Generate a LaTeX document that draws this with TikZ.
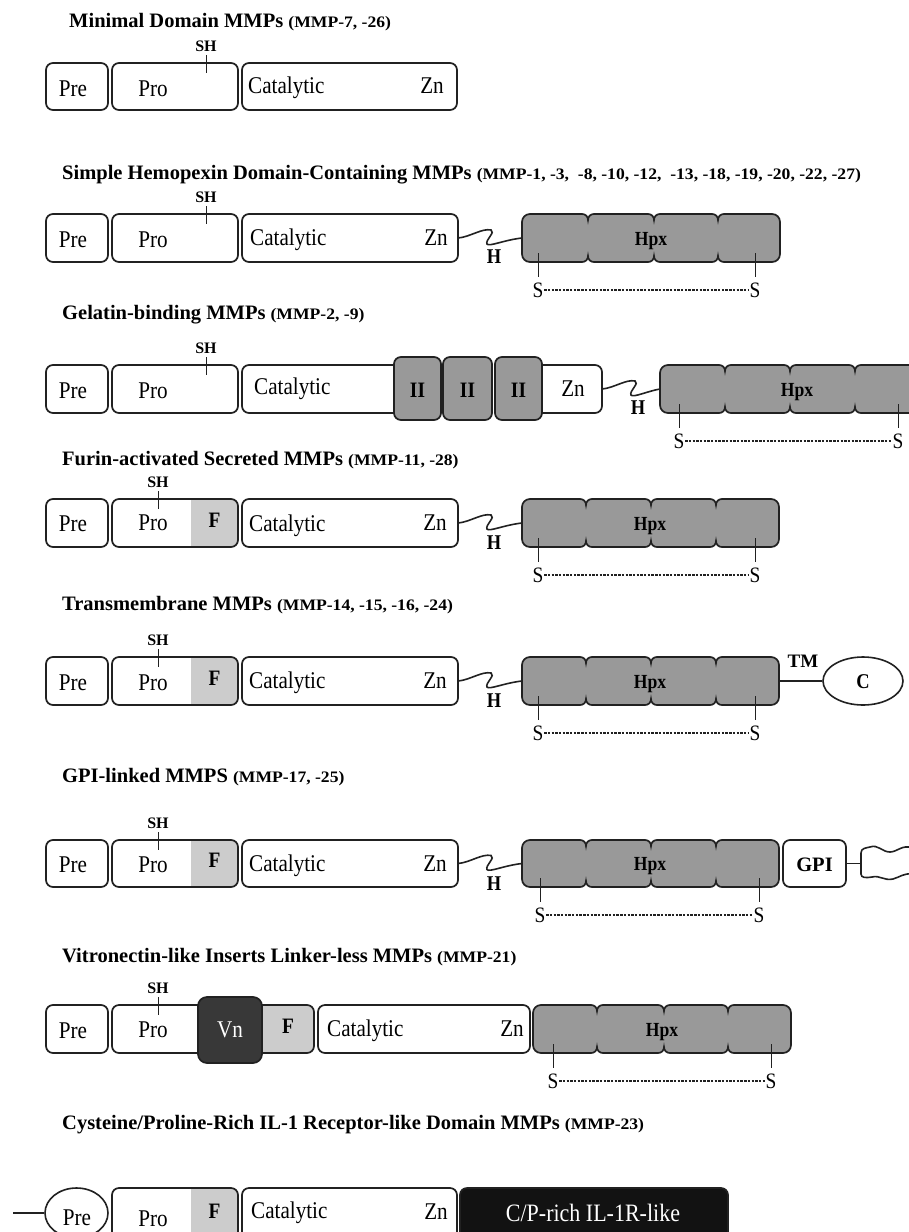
\documentclass[tikz,border=0pt]{standalone}
\usepackage{fontspec}
\setmainfont{Liberation Serif}
\newfontfamily\cfont{Liberation Serif}[FakeStretch=0.88]
\newfontfamily\wfont{Liberation Serif}[FakeStretch=1.1]
\usetikzlibrary{shapes.geometric}
\definecolor{ol}{gray}{0.13}
\definecolor{hgray}{gray}{0.6}
\definecolor{fgray}{gray}{0.8}
\definecolor{vdark}{gray}{0.22}
\definecolor{cpblk}{gray}{0.07}
\newcommand\ttlsz{\fontsize{20.5pt}{24pt}\selectfont\bfseries}
\newcommand\mmpsz{\wfont\fontsize{16pt}{19pt}\selectfont\bfseries}
\newcommand\lblsz{\cfont\fontsize{24pt}{27pt}\selectfont}
\newcommand\bsz{\cfont\fontsize{22pt}{26pt}\selectfont\bfseries}
\newcommand\bx[6][]{\node[box,minimum width={#4-#3},minimum height={#6-#5},#1] (#2) at ({(#3+#4)/2},{(#5+#6)/2}) {};}
\newcommand\hpx[8]{%
\filldraw[hpxsty] (#2,#4+8) .. controls (#2,#4+3.5) and (#2+3.5,#4) .. (#2+8,#4)
 -- (#6-6,#4) .. controls (#6-2.5,#4) and (#6,#4+2.5) .. (#6,#4+6) .. controls (#6,#4+2.5) and (#6+2.5,#4) .. (#6+6,#4)
 -- (#7-6,#4) .. controls (#7-2.5,#4) and (#7,#4+2.5) .. (#7,#4+6) .. controls (#7,#4+2.5) and (#7+2.5,#4) .. (#7+6,#4)
 -- (#8-6,#4) .. controls (#8-2.5,#4) and (#8,#4+2.5) .. (#8,#4+6) .. controls (#8,#4+2.5) and (#8+2.5,#4) .. (#8+6,#4)
 -- (#3-8,#4) .. controls (#3-3.5,#4) and (#3,#4+3.5) .. (#3,#4+8)
 -- (#3,#5-8) .. controls (#3,#5-3.5) and (#3-3.5,#5) .. (#3-8,#5)
 -- (#8+6,#5) .. controls (#8+2.5,#5) and (#8,#5-2.5) .. (#8,#5-6) .. controls (#8,#5-2.5) and (#8-2.5,#5) .. (#8-6,#5)
 -- (#7+6,#5) .. controls (#7+2.5,#5) and (#7,#5-2.5) .. (#7,#5-6) .. controls (#7,#5-2.5) and (#7-2.5,#5) .. (#7-6,#5)
 -- (#6+6,#5) .. controls (#6+2.5,#5) and (#6,#5-2.5) .. (#6,#5-6) .. controls (#6,#5-2.5) and (#6-2.5,#5) .. (#6-6,#5)
 -- (#2+8,#5) .. controls (#2+3.5,#5) and (#2,#5-3.5) .. (#2,#5-8) -- cycle;
\coordinate (#1w) at (#2,{(#4+#5)/2});
\coordinate (#1e) at (#3,{(#4+#5)/2});}
\newcommand\sbond[4]{%
\draw[tk] (#2,#4-9) -- (#2,#4+15);
\draw[tk] (#3,#4-9) -- (#3,#4+15);
\node[slab] (#1l) at (#2,#4+28) {S};
\node[slab] (#1r) at (#3,#4+28) {S};
\draw[dsh] (#1l.east) -- (#1r.west);}
\newcommand\lnk[4]{%
\draw[lnk] (#1) .. controls (#3+12,#4-1) and (#3+24,#4-10) .. (#3+33,#4-8) .. controls (#3+38,#4-6) and (#3+27,#4+2) .. (#3+29,#4+6) .. controls (#3+31,#4+9) and (#3+46,#4+2) .. (#2);}
\newcommand\shmark[3]{%
\node[shl] (#1) at (#2,#3-17) {SH};
\draw[tk] (#2,#3-8) -- (#2,#3+10);}
\begin{document}
\begin{tikzpicture}[x=1pt,y=-1pt,
 box/.style={draw=ol,line width=1.7pt,rounded corners=7pt,fill=white,inner sep=0pt,outer sep=0pt},
 hpxsty/.style={draw=ol,line width=1.7pt,fill=hgray},
 withF/.style={path picture={\fill[fgray,sharp corners] ([xshift=-#1]path picture bounding box.north east) rectangle (path picture bounding box.south east);}},
 ttl/.style={anchor=base west,inner sep=0pt,font=\ttlsz},
 lbl/.style={anchor=base,inner sep=0pt,font=\lblsz},
 lblw/.style={anchor=base west,inner sep=0pt,font=\lblsz},
 blbl/.style={anchor=base,inner sep=0pt,font=\bsz},
 hpxl/.style={anchor=base,inner sep=0pt,font=\cfont\fontsize{20pt}{24pt}\selectfont\bfseries},
 shl/.style={inner sep=0pt,font=\fontsize{16pt}{18pt}\selectfont\bfseries},
 slab/.style={inner sep=0.6pt,font=\cfont\fontsize{22pt}{24pt}\selectfont},
 hl/.style={inner sep=0pt,font=\cfont\fontsize{21pt}{24pt}\selectfont\bfseries},
 tk/.style={draw=ol,line width=0.9pt},
 lnk/.style={draw=ol,line width=1.6pt},
 dsh/.style={draw=ol,line width=1.2pt,dash pattern=on 2.4pt off 1.3pt},
]
\useasboundingbox (0,0) rectangle (909,1232);
\clip (0,0) rectangle (909,1232);
\fill[white] (0,0) rectangle (909,1232);

% ---------- Row 1
\node[ttl] (t1) at (69,27) {Minimal Domain MMPs {\mmpsz(MMP-7, -26)}};
\bx{r1pre}{46}{108}{63}{110}
\bx{r1pro}{112}{238}{63}{110}
\bx{r1cat}{242}{457}{63}{110}
\shmark{r1sh}{206}{63}
\node[lbl] (r1preL) at (73,96) {Pre};
\node[lbl] (r1proL) at (153,96) {Pro};
\node[lblw] (r1catL) at (248,93) {Catalytic};
\node[lbl] (r1znL) at (432,93) {Zn};

% ---------- Row 2
\node[ttl] (t2) at (62,179) {Simple Hemopexin Domain-Containing MMPs {\mmpsz(MMP-1, -3,\ \ -8, -10, -12,\ \ -13, -18, -19, -20, -22, -27)}};
\bx{r2pre}{46}{108}{214}{262}
\bx{r2pro}{112}{238}{214}{262}
\bx{r2cat}{242}{458}{214}{262}
\shmark{r2sh}{206}{214}
\node[lbl] (r2preL) at (73,247) {Pre};
\node[lbl] (r2proL) at (153,247) {Pro};
\node[lblw] (r2catL) at (250,245) {Catalytic};
\node[lbl] (r2znL) at (436,245) {Zn};
\hpx{r2h}{522}{780}{214}{262}{588}{654}{718}
\node[hpxl] (r2hpx) at (651,245) {Hpx};
\lnk{r2cat.east}{r2hw}{458}{238}
\node[hl] (r2H) at (494,257) {H};
\sbond{r2s}{538}{755}{262}

% ---------- Row 3
\node[ttl] (t3) at (62,319) {Gelatin-binding MMPs {\mmpsz(MMP-2, -9)}};
\bx{r3pre}{46}{108}{365}{413}
\bx{r3pro}{112}{238}{365}{413}
\bx{r3cat}{242}{410}{365}{413}
\bx{r3zn}{530}{602}{365}{413}
\bx[fill=hgray]{r3ii1}{394}{441}{357}{420}
\bx[fill=hgray]{r3ii2}{443}{492}{357}{420}
\bx[fill=hgray]{r3ii3}{495}{542}{357}{420}
\shmark{r3sh}{206}{365}
\node[lbl] (r3preL) at (73,398) {Pre};
\node[lbl] (r3proL) at (153,398) {Pro};
\node[lblw] (r3catL) at (254,394) {Catalytic};
\node[blbl] (r3ii1L) at (417.5,397) {II};
\node[blbl] (r3ii2L) at (467.5,397) {II};
\node[blbl] (r3ii3L) at (518.5,397) {II};
\node[lbl] (r3znL) at (573,396) {Zn};
\hpx{r3h}{660}{918}{365}{413}{725}{790}{855}
\node[hpxl] (r3hpx) at (797,396) {Hpx};
\lnk{r3zn.east}{r3hw}{602}{389}
\node[hl] (r3H) at (638,408) {H};
\sbond{r3s}{679}{898}{413}

% ---------- Row 4
\node[ttl] (t4) at (62,465) {Furin-activated Secreted MMPs {\mmpsz(MMP-11, -28)}};
\bx{r4pre}{46}{108}{499}{547}
\bx[withF=47pt]{r4pro}{112}{238}{499}{547}
\bx{r4cat}{242}{458}{499}{547}
\shmark{r4sh}{158}{499}
\node[lbl] (r4preL) at (73,531) {Pre};
\node[lbl] (r4proL) at (153,530) {Pro};
\node[blbl] (r4fL) at (214.5,527) {F};
\node[lblw] (r4catL) at (249,531) {Catalytic};
\node[lbl] (r4znL) at (435,530) {Zn};
\hpx{r4h}{522}{779}{499}{547}{586}{651}{716}
\node[hpxl] (r4hpx) at (650,530) {Hpx};
\lnk{r4cat.east}{r4hw}{458}{523}
\node[hl] (r4H) at (494,543) {H};
\sbond{r4s}{538}{755}{547}

% ---------- Row 5
\node[ttl] (t5) at (62,610) {Transmembrane MMPs {\mmpsz(MMP-14, -15, -16, -24)}};
\bx{r5pre}{46}{108}{657}{705}
\bx[withF=47pt]{r5pro}{112}{238}{657}{705}
\bx{r5cat}{242}{458}{657}{705}
\shmark{r5sh}{158}{657}
\node[lbl] (r5preL) at (73,690) {Pre};
\node[lbl] (r5proL) at (153,690) {Pro};
\node[blbl] (r5fL) at (214.5,685) {F};
\node[lblw] (r5catL) at (249,688) {Catalytic};
\node[lbl] (r5znL) at (435,688) {Zn};
\hpx{r5h}{522}{779}{657}{705}{586}{651}{716}
\node[hpxl] (r5hpx) at (650,688) {Hpx};
\lnk{r5cat.east}{r5hw}{458}{681}
\node[hl] (r5H) at (494,701) {H};
\sbond{r5s}{538}{755}{705}
\node[draw=ol,line width=1.6pt,ellipse,fill=white,minimum width=80pt,minimum height=48pt,inner sep=0pt] (r5c) at (863,681) {};
\node[hl] (r5cL) at (863,682) {C};
\draw[lnk] (r5he) -- (r5c.west);
\node[inner sep=0pt,font=\fontsize{19pt}{22pt}\selectfont\bfseries] (r5tm) at (803,661) {TM};

% ---------- Row 6
\node[ttl] (t6) at (62,782) {GPI-linked MMPS {\mmpsz(MMP-17, -25)}};
\bx{r6pre}{46}{108}{840}{887}
\bx[withF=47pt]{r6pro}{112}{238}{840}{887}
\bx{r6cat}{242}{458}{840}{887}
\shmark{r6sh}{158}{840}
\node[lbl] (r6preL) at (73,872) {Pre};
\node[lbl] (r6proL) at (153,872) {Pro};
\node[blbl] (r6fL) at (214.5,867) {F};
\node[lblw] (r6catL) at (249,871) {Catalytic};
\node[lbl] (r6znL) at (435,871) {Zn};
\hpx{r6h}{522}{779}{840}{887}{586}{651}{716}
\node[hpxl] (r6hpx) at (650,870) {Hpx};
\lnk{r6cat.east}{r6hw}{458}{863.5}
\node[hl] (r6H) at (494,884) {H};
\sbond{r6s}{540}{759}{887}
\bx{r6gpi}{783}{846}{840}{887}
\node[anchor=base,inner sep=0pt,font=\fontsize{20.5pt}{24pt}\selectfont\bfseries] (r6gpiL) at (814.5,871) {GPI};
\coordinate (r6mem) at (861,863.5);
\draw[lnk] (r6gpi.east) -- (r6mem);
\draw[lnk] (912,848) .. controls (903,844) and (897,852) .. (890,852) .. controls (882,852) and (878,844) .. (870,847) .. controls (866,848) and (861,848) .. (861,853)
  -- (861,874) .. controls (861,878) and (866,878) .. (872,877) .. controls (880,875) and (884,881) .. (893,879) .. controls (900,877) and (904,873) .. (912,874);

% ---------- Row 7
\node[ttl] (t7) at (62,962) {Vitronectin-like Inserts Linker-less MMPs {\mmpsz(MMP-21)}};
\bx{r7pre}{46}{108}{1005}{1053}
\bx[withF=52pt]{r7pro}{112}{314}{1005}{1053}
\bx[fill=vdark,rounded corners=9pt]{r7vn}{198}{262}{997}{1063}
\bx{r7cat}{318}{530}{1005}{1053}
\shmark{r7sh}{158}{1005}
\node[lbl] (r7preL) at (73,1038) {Pre};
\node[lbl] (r7proL) at (153,1037) {Pro};
\node[lbl,text=white] (r7vnL) at (230,1037) {Vn};
\node[blbl] (r7fL) at (288,1033) {F};
\node[lblw] (r7catL) at (327,1036) {Catalytic};
\node[lbl] (r7znL) at (512,1036) {Zn};
\hpx{r7h}{533}{791}{1005}{1053}{597}{664}{728}
\node[hpxl] (r7hpx) at (662,1036) {Hpx};
\sbond{r7s}{553}{771}{1053}

% ---------- Row 8
\node[ttl] (t8) at (62,1129) {Cysteine/Proline-Rich IL-1 Receptor-like Domain MMPs {\mmpsz(MMP-23)}};
\coordinate (r8tail) at (13,1213);
\node[draw=ol,line width=1.6pt,ellipse,fill=white,minimum width=63pt,minimum height=50pt,inner sep=0pt] (r8pre) at (76.5,1213) {};
\draw[lnk] (r8tail) -- (r8pre.west);
\bx[withF=47pt]{r8pro}{112}{238}{1188}{1240}
\bx{r8cat}{242}{457}{1188}{1240}
\bx[fill=cpblk]{r8cp}{460}{728}{1188}{1240}
\node[lbl] (r8preL) at (77,1225) {Pre};
\node[lbl] (r8proL) at (153,1226) {Pro};
\node[blbl] (r8fL) at (214.5,1218) {F};
\node[lblw] (r8catL) at (251,1218) {Catalytic};
\node[lbl] (r8znL) at (436,1219) {Zn};
\node[anchor=base,inner sep=0pt,font=\cfont\fontsize{25pt}{28pt}\selectfont,text=white] (r8cpL) at (593,1221) {C/P-rich IL-1R-like};
\end{tikzpicture}
\end{document}
